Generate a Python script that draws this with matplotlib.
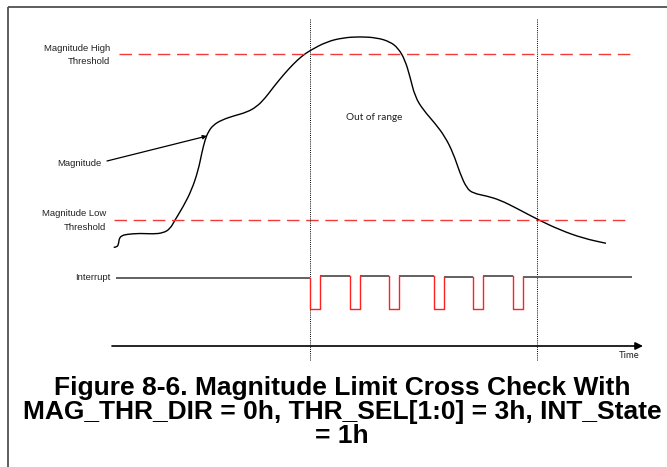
import matplotlib
matplotlib.use('Agg')
import matplotlib.pyplot as plt
from matplotlib.patches import Rectangle, PathPatch
from matplotlib.path import Path

# 幅度曲线（横轴为时间，纵轴为幅度，图上坐标）
time = [113.7, 117.3, 118.7, 119.3, 121.7, 126.7, 140, 153, 163, 170, 175, 183,
        191.7, 198.3, 201.7, 205, 208.3, 213.3, 221.7, 233.3, 246.7, 256.7, 265,
        273.3, 283.3, 293.3, 302, 310, 326.7, 343.3, 360, 376.7, 390, 398.3, 405,
        410, 415, 423.3, 435, 445, 453.3, 460, 466.7, 473.3, 486.7, 500, 516.7,
        537.3, 560, 583.3, 606]
magnitude = [247.3, 247.3, 243, 238.3, 235.7, 234.3, 233.3, 234, 233, 229, 220, 207,
             190, 170, 153.3, 140, 131.7, 125, 120, 116, 112.3, 106.7, 98.3,
             87.3, 75, 64, 56, 50.5, 41.7, 37.7, 36.7, 37.7, 41.7, 48.3, 60,
             76.7, 96.7, 110, 123.3, 136.7, 153.3, 173.3, 188.3, 193.3, 196, 200, 208.3,
             219.3, 230, 238.3, 243.3]

high_thr = 54
low_thr = 220
event_times = [310, 537]

# 中断信号
int_start, int_end = 116, 632
pulse_fall = [310, 349.5, 388.5, 434, 472.5, 512.5]
pulse_width = 10
int_high = [278, 276, 275.5, 276, 276.5, 276, 276.5]
int_low = 309

time_axis_y = 346

title_lines = ['Figure 8-6. Magnitude Limit Cross Check With',
               'MAG_THR_DIR = 0h, THR_SEL[1:0] = 3h, INT_State',
               '= 1h']
title_baselines = [395, 418.5, 443]


def smooth_path(xs, ys):
    '''用二次贝塞尔把折线点连成平滑曲线（控制点为原始点）'''
    pts = list(zip(xs, ys))
    verts = [pts[0], pts[0]]
    codes = [Path.MOVETO, Path.LINETO]
    for i in range(1, len(pts) - 1):
        mid = ((pts[i][0] + pts[i + 1][0]) / 2, (pts[i][1] + pts[i + 1][1]) / 2)
        verts += [pts[i], mid]
        codes += [Path.CURVE3, Path.CURVE3]
    verts.append(pts[-1])
    codes.append(Path.LINETO)
    return Path(verts, codes)


fig = plt.figure(figsize=(6.67, 4.67), dpi=100)
ax = fig.add_axes([0, 0, 1, 1])
ax.set_xlim(0, 667)
ax.set_ylim(467, 0)
ax.axis('off')

# 外框
ax.add_patch(Rectangle((8, 7), 680, 480, fill=False, ec='#505050', lw=1.3))

# 阈值虚线
red = '#f23a3a'
ax.plot([119, 634], [high_thr, high_thr], color=red, lw=1.0, dashes=(9, 4.8))
ax.plot([114, 630], [low_thr, low_thr], color=red, lw=1.0, dashes=(9, 4.8))

# 事件时刻竖线
for t in event_times:
    ax.plot([t, t], [19, 360], color='black', lw=0.7, ls=(0, (1, 1.2)))

ax.add_patch(PathPatch(smooth_path(time, magnitude), fill=False, ec='black', lw=1.0))

# 中断信号：高电平灰黑，低脉冲红色
edges = [int_start] + [p for f in pulse_fall for p in (f, f + pulse_width)] + [int_end]
for i in range(len(int_high)):
    ax.plot([edges[2 * i], edges[2 * i + 1]], [int_high[i], int_high[i]],
            color='#555555', lw=1.3, solid_capstyle='butt')
for i, f in enumerate(pulse_fall):
    ax.plot([f, f, f + pulse_width, f + pulse_width],
            [int_high[i], int_low, int_low, int_high[i + 1]],
            color='#ff2020', lw=1.0)

# 时间轴
ax.annotate('', xy=(643, time_axis_y), xytext=(112, time_axis_y),
            arrowprops=dict(arrowstyle='-|>', color='black', lw=1.2,
                            mutation_scale=11, shrinkA=0, shrinkB=0))

# Magnitude 指示箭头
ax.annotate('', xy=(207, 136), xytext=(107, 161),
            arrowprops=dict(arrowstyle='-|>', color='black', lw=0.9,
                            mutation_scale=6, shrinkA=0, shrinkB=0))

lab = dict(fontsize=6.8, family='Liberation Sans', color='#222222', ha='right', va='center')
ax.text(110, 48.5, 'Magnitude High', **lab)
ax.text(110, 61, 'Threshold', **lab)
ax.text(101, 163, 'Magnitude', **lab)
ax.text(106, 214, 'Magnitude Low', **lab)
ax.text(106, 227, 'Threshold', **lab)
ax.text(111, 277, 'Interrupt', **lab)

ax.text(374, 118, 'Out of range', fontsize=7.2, family='Lato', color='#222222',
        ha='center', va='center')
ax.text(629, 355, 'Time', fontsize=6.8, family='Lato', color='#222222',
        ha='center', va='center')

for line, yb in zip(title_lines, title_baselines):
    ax.text(342, yb, line, fontsize=19, family='Liberation Sans', fontweight='bold',
            ha='center', va='baseline', color='black')

fig.savefig('out.png', dpi=100)
